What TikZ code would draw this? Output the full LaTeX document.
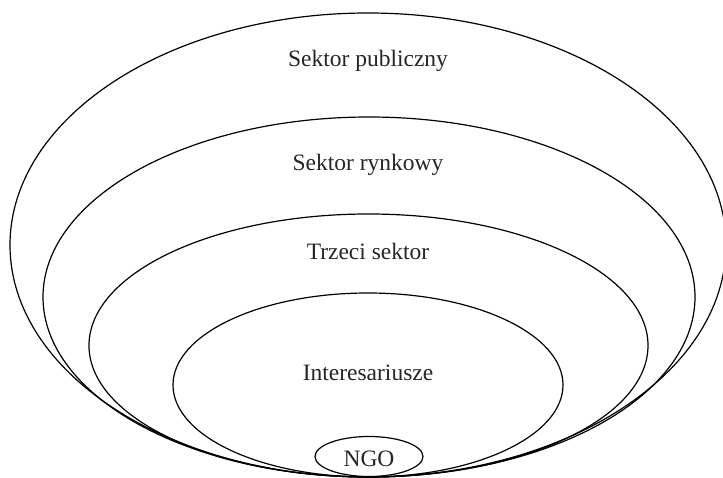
\documentclass[tikz,border=0pt]{standalone}
\usepackage{fontspec}
\setmainfont{Liberation Serif}
\usetikzlibrary{shapes.geometric}
\begin{document}
\begin{tikzpicture}[x=1pt,y=-1pt,
  ring/.style={draw=black, line width=1.2pt, ellipse, inner sep=0pt},
  lbl/.style={font=\fontsize{23.5}{27}\selectfont, text=black!85, inner sep=0pt, anchor=base}]
\useasboundingbox[fill=white] (0,0) rectangle (723,478);
\node[ring, minimum width=716pt, minimum height=464pt] (pub) at (368,245) {};
\node[ring, minimum width=652pt, minimum height=360pt] (ryn) at (369,297) {};
\node[ring, minimum width=559pt, minimum height=263pt] (trz) at (368.5,345.5) {};
\node[ring, minimum width=390pt, minimum height=184pt] (int) at (368,385) {};
\node[ring, minimum width=108pt, minimum height=40pt] (ngo) at (369,456.5) {};
\node[lbl] (tpub) at (368,67) {Sektor publiczny};
\node[lbl] (tryn) at (368,171) {Sektor rynkowy};
\node[lbl] (ttrz) at (368,260) {Trzeci sektor};
\node[lbl] (tint) at (368,380) {Interesariusze};
\node[lbl] (tngo) at (369,466) {NGO};
\end{tikzpicture}
\end{document}
